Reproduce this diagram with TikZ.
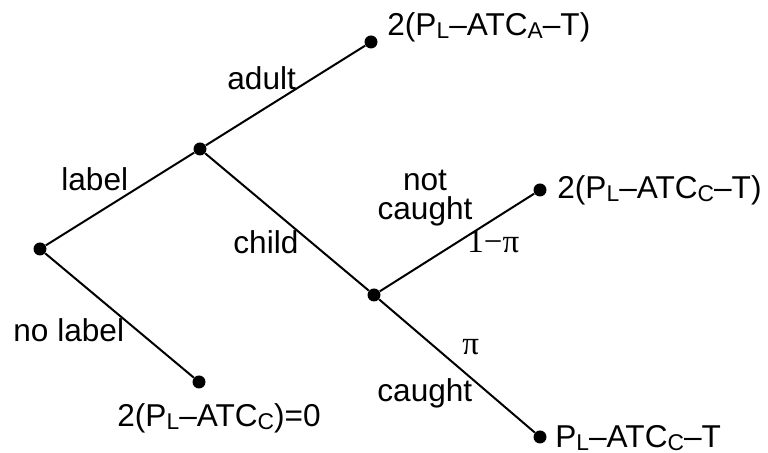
\documentclass[tikz,border=0pt]{standalone}
\usepackage{fontspec}
\setmainfont{Liberation Sans}
\newfontfamily\probfont{Liberation Serif}
\usetikzlibrary{positioning}
\newcommand{\sub}[1]{\raisebox{-1.2pt}{\fontsize{11.4}{12}\selectfont #1}}

\begin{document}
\begin{tikzpicture}[
  x=0.5pt, y=-0.5pt,
  font=\fontsize{15.8}{18}\selectfont,
  dot/.style={circle, fill=black, inner sep=0pt, minimum size=6.5pt},
  txt/.style={anchor=base west, inner sep=0pt},
  prob/.style={anchor=base west, inner sep=0pt, font=\fontsize{16.5}{19}\probfont},
  branch/.style={line width=1pt}
]
\useasboundingbox (0,0) rectangle (768,453);

\node[dot] (root) at (40,249) {};
\node[dot] (lab) at (200,149) {};
\node[dot] (adult) at (371,42) {};
\node[dot] (nolab) at (199,382) {};
\node[dot] (child) at (374,295) {};
\node[dot] (notc) at (540,190) {};
\node[dot] (caught) at (540,437) {};

\node[txt] (adultT) at (387,36) {2(P\sub{L}–ATC\sub{A}–T)};
\node[txt] (notcT) at (557,199) {2(P\sub{L}–ATC\sub{C}–T)};
\node[txt] (caughtT) at (555,448) {P\sub{L}–ATC\sub{C}–T};
\node[txt] (nolabT) at (117,427) {2(P\sub{L}–ATC\sub{C})=0};

\node[txt] (adultL) at (227,90) {adult};
\node[txt] (labL) at (61,191) {label};
\node[txt] (childL) at (233,254) {child};
\node[txt] (nolabL) at (13,342) {no label};
\node[inner sep=0pt, anchor=base, align=center,
  font=\fontsize{15.8}{14.5}\selectfont] (ncL) at (425,220) {not\\caught};
\node[txt] (cL) at (377,402) {caught};
\node[prob] (pn) at (467,253) {1−π};
\node[prob] (pc) at (462,355) {π};

\draw[branch] (root) -- (lab);
\draw[branch] (root) -- (nolab);
\draw[branch] (lab) -- (adult);
\draw[branch] (lab) -- (child);
\draw[branch] (child) -- (notc);
\draw[branch] (child) -- (caught);
\end{tikzpicture}
\end{document}
